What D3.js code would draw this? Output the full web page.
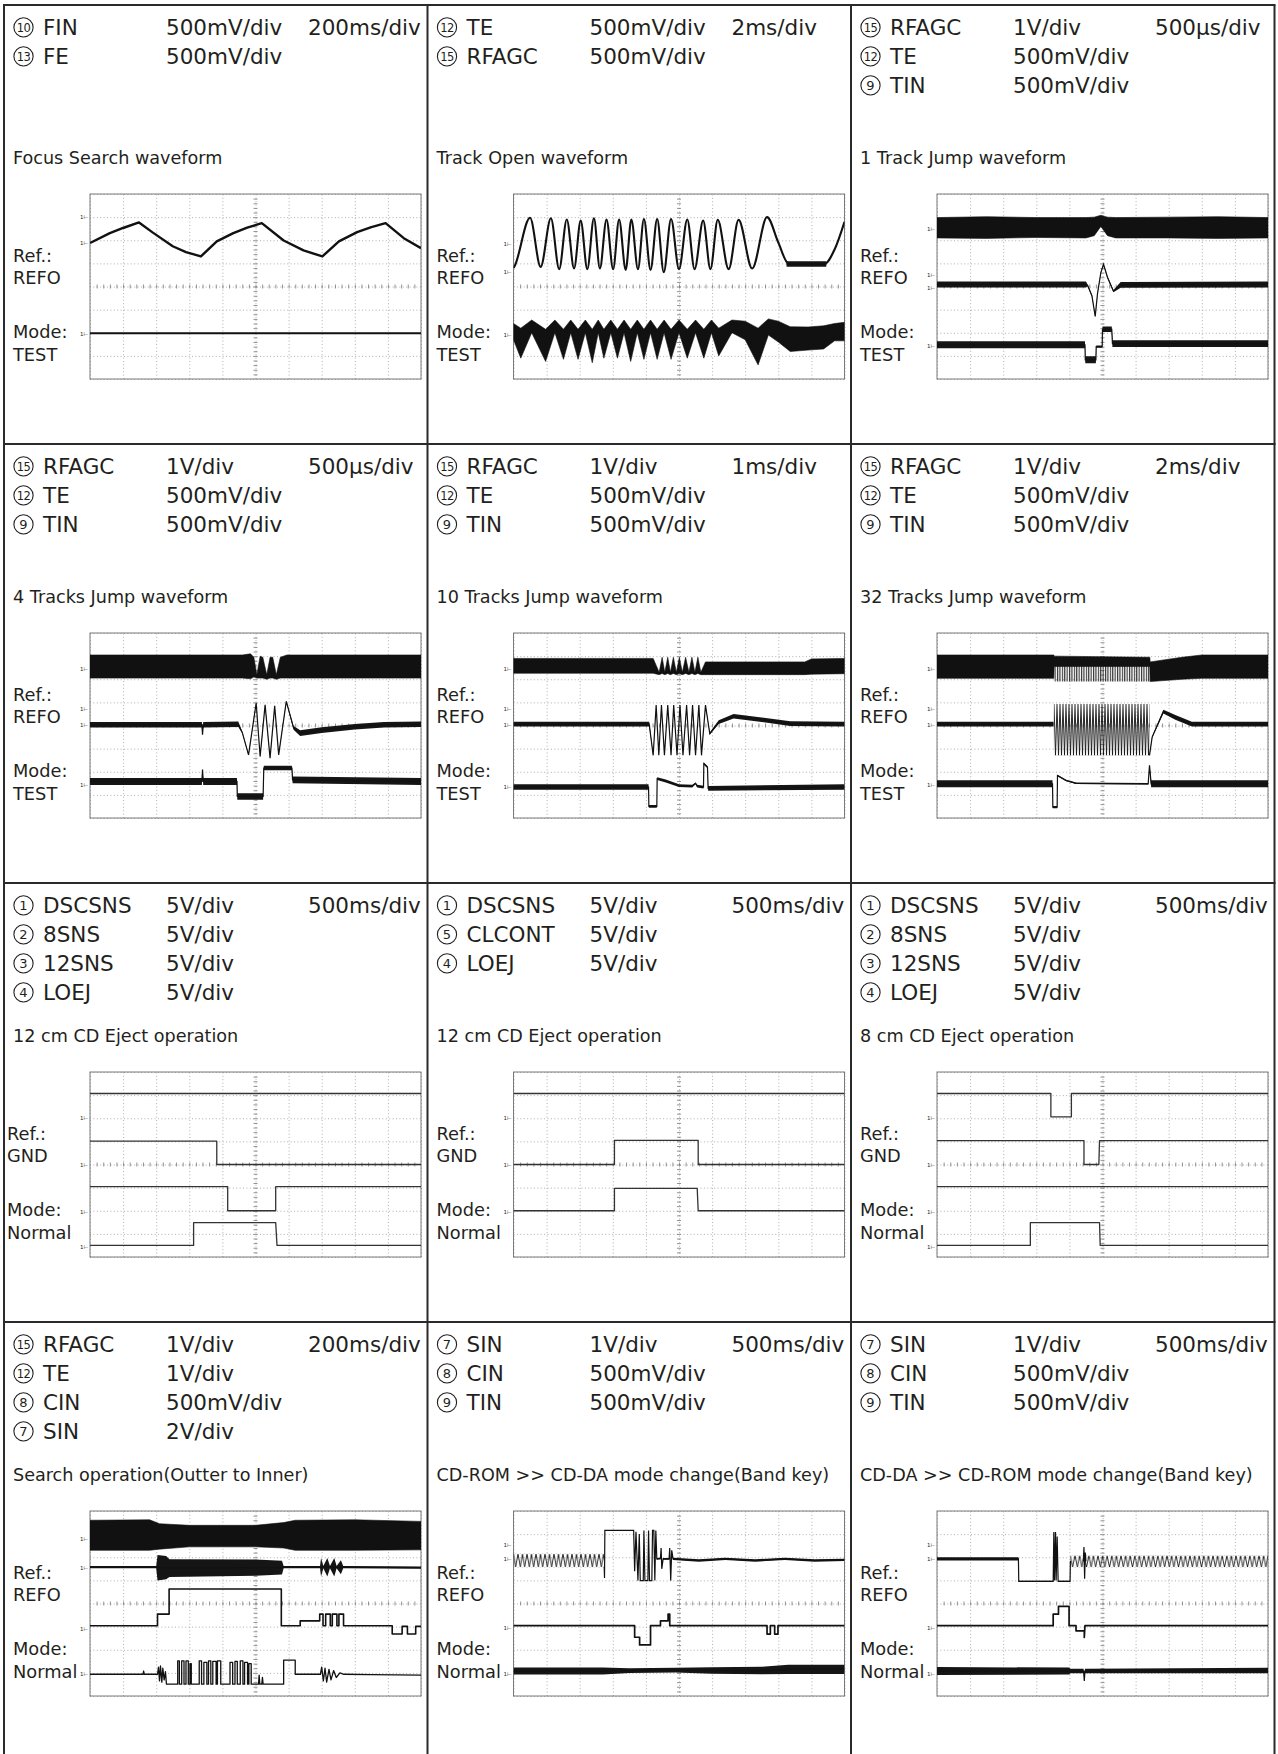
<!DOCTYPE html>
<html>
<head>
<meta charset="utf-8">
<script src="https://cdn.jsdelivr.net/npm/d3@7"></script>
<style>
  body { margin: 0; background: #fff; }
  svg text { font-family: "DejaVu Sans", sans-serif; fill: #231f20; }
  .grid .domain, .minor .domain { display: none; }
  .grid line { stroke: #9a9a9a; stroke-width: 0.8; stroke-dasharray: 1 2.4; }
  .minor line { stroke: #777; stroke-width: 0.8; }
</style>
</head>
<body>
<svg id="sheet"></svg>
<script>
// ---- text of each panel: [pin number, signal, volts/div] ----
const chFocus = [["10", "FIN", "500mV/div"], ["13", "FE", "500mV/div"]]
const chTrackOpen = [["12", "TE", "500mV/div"], ["15", "RFAGC", "500mV/div"]]
const chJump = [["15", "RFAGC", "1V/div"], ["12", "TE", "500mV/div"], ["9", "TIN", "500mV/div"]]
const chEject = [["1", "DSCSNS", "5V/div"], ["2", "8SNS", "5V/div"], ["3", "12SNS", "5V/div"], ["4", "LOEJ", "5V/div"]]
const chEjectCl = [["1", "DSCSNS", "5V/div"], ["5", "CLCONT", "5V/div"], ["4", "LOEJ", "5V/div"]]
const chSearch = [["15", "RFAGC", "1V/div"], ["12", "TE", "1V/div"], ["8", "CIN", "500mV/div"], ["7", "SIN", "2V/div"]]
const chMode = [["7", "SIN", "1V/div"], ["8", "CIN", "500mV/div"], ["9", "TIN", "500mV/div"]]

const timebases = ["200ms/div", "2ms/div", "500μs/div", "500μs/div", "1ms/div", "2ms/div",
                   "500ms/div", "500ms/div", "500ms/div", "200ms/div", "500ms/div", "500ms/div"]
const titles = ["Focus Search waveform", "Track Open waveform", "1 Track Jump waveform",
                "4 Tracks Jump waveform", "10 Tracks Jump waveform", "32 Tracks Jump waveform",
                "12 cm CD Eject operation", "12 cm CD Eject operation", "8 cm CD Eject operation",
                "Search operation(Outter to Inner)", "CD-ROM >> CD-DA mode change(Band key)",
                "CD-DA >> CD-ROM mode change(Band key)"]
const refSources = ["REFO", "REFO", "REFO", "REFO", "REFO", "REFO", "GND", "GND", "GND", "REFO", "REFO", "REFO"]
const modes = ["TEST", "TEST", "TEST", "TEST", "TEST", "TEST", "Normal", "Normal", "Normal", "Normal", "Normal", "Normal"]

// ---- traces, x in divisions (0..10), y in divisions (-4..4) ----
// line: [x, y]   trace: [x, y, noise]   band: [x, lo, hi]
const focusFIN = [[0,1.88],[0.6,2.31],[1.0,2.53],[1.48,2.77],[1.9,2.33],[2.5,1.74],[2.9,1.49],[3.35,1.30],
  [3.83,1.95],[4.33,2.31],[4.75,2.55],[5.19,2.74],[5.85,1.99],[6.45,1.56],[7.02,1.30],[7.52,1.95],
  [8.07,2.35],[8.5,2.57],[8.93,2.74],[9.48,2.09],[10,1.66]]
const focusFE = [[0,-2.02],[10,-2.02]]

const trackOpenTE = [[0,0.8],[0.04,0.9],[0.5,2.97],[0.82,0.85],[1.13,2.95],[1.38,0.75],[1.61,2.9],[1.83,0.78],
  [2.03,2.85],[2.23,0.75],[2.43,2.95],[2.61,0.78],[2.81,2.9],[3.01,0.75],[3.19,2.9],[3.39,0.72],[3.56,2.9],
  [3.76,0.75],[3.94,2.92],[4.14,0.72],[4.34,2.92],[4.54,0.62],[4.76,2.92],[5.0,0.75],[5.25,2.9],[5.47,0.75],
  [5.73,2.85],[5.95,0.75],[6.17,2.88],[6.5,0.75],[6.8,2.88],[7.21,0.78],[7.66,3.0],[8.0,1.9],[8.3,1.0],
  [8.6,0.95],[9.0,0.97],[9.4,0.98],[9.7,1.6],[10,2.8]]
const trackOpenTENoise = [[8.25,0.97,0.12],[9.45,0.97,0.12]]
const trackOpenRFAGC = [[0,-1.6,-2.3],[0.22,-1.8,-3.1],[0.55,-1.45,-2.0],[0.97,-1.85,-3.24],[1.25,-1.45,-2.0],
  [1.51,-1.85,-3.15],[1.73,-1.45,-2.0],[1.95,-1.85,-3.15],[2.17,-1.45,-2.0],[2.38,-1.85,-3.3],[2.56,-1.45,-2.0],
  [2.73,-1.85,-3.1],[2.94,-1.45,-2.0],[3.14,-1.85,-3.1],[3.34,-1.45,-2.0],[3.54,-1.85,-3.24],[3.74,-1.45,-2.0],
  [3.94,-1.85,-3.15],[4.14,-1.45,-2.0],[4.34,-1.85,-3.15],[4.55,-1.45,-2.0],[4.76,-1.85,-3.15],[5.0,-1.45,-2.0],
  [5.25,-1.85,-3.1],[5.5,-1.45,-2.0],[5.75,-1.85,-3.1],[5.98,-1.45,-2.0],[6.2,-1.8,-3.0],[6.6,-1.45,-2.0],
  [7.0,-1.5,-2.3],[7.39,-1.8,-3.39],[7.7,-1.4,-2.1],[8.0,-1.5,-2.4],[8.36,-1.74,-2.81],[8.9,-1.75,-2.75],
  [9.37,-1.7,-2.7],[9.7,-1.6,-2.35],[10,-1.55,-2.35]]

const jump1RFAGC = [[0,2.1,2.98],[1.5,2.08,3.02],[3,2.12,2.98],[4.5,2.1,2.98],[4.75,2.2,3.0],[4.95,2.6,3.08],
  [5.15,2.2,3.0],[5.4,2.1,2.98],[7,2.1,3.0],[8.5,2.08,3.02],[10,2.1,2.98]]
const jump1TE = [[0,0.09,0.13],[4.5,0.09,0.13],[4.55,0.05,0.04],[4.68,-0.4,0.04],[4.78,-1.29,0.03],[4.85,-0.3,0.03],
  [4.95,0.6,0.03],[5.03,0.96,0.03],[5.15,0.4,0.04],[5.33,-0.2,0.05],[5.55,0.07,0.12],[10,0.09,0.13]]
const jump1TIN = [[0,-2.52,0.15],[4.47,-2.52,0.15],[4.48,-3.17,0.15],[4.8,-3.17,0.15],[4.81,-2.6,0.05],
  [4.99,-2.6,0.05],[5.0,-1.85,0.12],[5.28,-1.85,0.12],[5.3,-2.47,0.15],[10,-2.47,0.15]]

const jump4RFAGC = [[0,2.05,3.05],[4.6,2.05,3.05],[4.85,2.02,3.1],[4.95,2.1,2.95],[5.04,2.05,2.2],[5.14,2.05,3.0],
  [5.22,2.05,2.95],[5.34,2.0,2.2],[5.44,2.05,2.95],[5.52,2.05,2.95],[5.63,2.0,2.2],[5.75,2.05,2.95],
  [5.95,2.05,3.05],[10,2.05,3.05]]
const jump4TE = [[0,0.03,0.12],[3.38,0.03,0.12],[3.4,-0.4,0.03],[3.42,0.03,0.12],[4.48,0.05,0.12],[4.6,-0.3,0.03],
  [4.79,-1.27,0.03],[5.02,0.97,0.03],[5.14,-1.34,0.03],[5.29,0.89,0.03],[5.44,-1.41,0.03],[5.58,0.85,0.03],
  [5.7,-1.27,0.03],[5.93,1.04,0.03],[6.15,-0.1,0.08],[6.35,-0.33,0.12],[7,-0.2,0.12],[8,-0.05,0.12],
  [8.88,0.03,0.12],[10,0.05,0.12]]
const jump4TIN = [[0,-2.42,0.15],[3.38,-2.42,0.15],[3.4,-1.9,0.03],[3.42,-2.42,0.15],[4.44,-2.42,0.15],
  [4.45,-3.07,0.14],[5.23,-3.07,0.14],[5.25,-1.84,0.1],[6.1,-1.84,0.1],[6.12,-2.35,0.15],[10,-2.42,0.15]]

const jump10RFAGC = [[0,2.26,2.9],[4.22,2.26,2.9],[4.4,2.2,2.3],[4.49,2.25,2.95],[4.57,2.2,2.3],[4.66,2.25,2.95],
  [4.74,2.2,2.3],[4.83,2.25,2.95],[4.92,2.2,2.3],[5.01,2.25,2.95],[5.1,2.2,2.3],[5.2,2.25,2.95],[5.3,2.2,2.3],
  [5.39,2.25,2.95],[5.48,2.2,2.3],[5.57,2.25,2.95],[5.66,2.2,2.3],[5.8,2.2,2.75],[8.8,2.2,2.75],
  [9.0,2.22,2.88],[10,2.24,2.9]]
const jump10TE = [[0,0.06,0.1],[4.1,0.06,0.1],[4.22,-1.29,0.02],[4.31,0.88,0.02],[4.39,-1.29,0.02],[4.47,0.88,0.02],
  [4.56,-1.29,0.02],[4.66,0.88,0.02],[4.76,-1.29,0.02],[4.84,0.88,0.02],[4.94,-1.29,0.02],[5.03,0.88,0.02],
  [5.12,-1.29,0.02],[5.23,0.88,0.02],[5.32,-1.29,0.02],[5.41,0.88,0.02],[5.5,-1.29,0.02],[5.6,0.88,0.02],
  [5.68,-1.29,0.02],[5.8,0.88,0.02],[5.93,-0.35,0.05],[6.2,0.15,0.08],[6.65,0.4,0.1],[7.5,0.25,0.1],
  [8.36,0.08,0.1],[10,0.06,0.1]]
const jump10TIN = [[0,-2.66,0.12],[4.08,-2.66,0.12],[4.09,-3.5,0.06],[4.33,-3.5,0.06],[4.34,-2.3,0.06],
  [4.6,-2.4,0.06],[5.0,-2.6,0.06],[5.4,-2.62,0.06],[5.5,-2.5,0.04],[5.55,-2.62,0.06],[5.74,-2.66,0.06],
  [5.75,-1.65,0.05],[5.86,-1.8,0.05],[5.88,-2.72,0.1],[10,-2.66,0.12]]

const jump32RFAGC = [[0,2.04,3.05],[3.53,2.04,3.05],[3.54,2.55,3.0],[6.43,2.55,2.95],[6.44,1.9,2.75],
  [7.4,2.0,2.95],[8,2.04,3.05],[10,2.04,3.05]]
const jump32RFAGCSparse = [[3.54,1.9,2.6],[6.43,1.9,2.6]]
const jump32TE = [[0,0.06,0.1],[3.52,0.06,0.1],null,[6.42,-1.29,0.02],[6.5,-0.5,0.04],[6.84,0.6,0.08],
  [7.2,0.35,0.1],[7.7,0.06,0.1],[10,0.06,0.1]]
const jump32TEBurst = [[3.53,-1.3,0.93],[6.42,-1.3,0.93]]
const jump32TIN = [[0,-2.52,0.15],[3.49,-2.52,0.15],[3.5,-3.53,0.05],[3.63,-3.53,0.05],[3.64,-2.16,0.03],
  [3.9,-2.38,0.03],[4.2,-2.5,0.03],[6.38,-2.52,0.03],[6.42,-1.72,0.02],[6.47,-2.52,0.15],[10,-2.52,0.15]]

const eject12DSCSNS = [[0,3.07],[10,3.07]]
const eject12SNS8 = [[0,1.01],[3.83,1.01],[3.83,0],[10,0]]
const eject12SNS12 = [[0,-0.96],[4.16,-0.96],[4.16,-2.0],[5.61,-2.0],[5.61,-0.96],[10,-0.96]]
const eject12LOEJ = [[0,-3.5],[3.13,-3.5],[3.13,-2.51],[5.61,-2.51],[5.65,-3.5],[10,-3.5]]

const ejectClDSCSNS = [[0,3.07],[10,3.07]]
const ejectClCLCONT = [[0,0],[3.05,0],[3.05,1.04],[5.58,1.04],[5.58,0],[10,0]]
const ejectClLOEJ = [[0,-2.0],[3.05,-2.0],[3.05,-1.03],[5.55,-1.03],[5.58,-2.0],[10,-2.0]]

const eject8DSCSNS = [[0,3.07],[3.44,3.07],[3.44,2.06],[4.06,2.06],[4.06,3.07],[10,3.07]]
const eject8SNS8 = [[0,1.03],[4.44,1.03],[4.44,0],[4.89,0],[4.91,1.03],[10,1.03]]
const eject8SNS12 = [[0,-0.96],[10,-0.96]]
const eject8LOEJ = [[0,-3.5],[2.82,-3.5],[2.82,-2.51],[4.91,-2.51],[4.93,-3.5],[10,-3.5]]

const searchRFAGC = [[0,2.3,3.6],[1.8,2.3,3.62],[2.1,2.35,3.45],[3,2.45,3.38],[5,2.45,3.38],[5.85,2.4,3.5],
  [6.2,2.3,3.6],[8,2.3,3.62],[10,2.32,3.55]]
const searchTE = [[0,1.57,0.05],[2.0,1.57,0.05],[2.04,1.55,0.55],[2.3,1.55,0.5],[2.4,1.53,0.38],[5.0,1.55,0.35],
  [5.8,1.55,0.3],[5.85,1.57,0.05],[6.95,1.57,0.05],[6.98,1.57,0.4],[7.05,1.57,0.05],[7.17,1.57,0.4],
  [7.25,1.57,0.05],[7.38,1.57,0.4],[7.45,1.57,0.05],[7.58,1.57,0.3],[7.65,1.57,0.05],[10,1.55,0.05]]
const searchCIN = [[0,-0.96],[2.04,-0.96],[2.04,-0.46],[2.39,-0.46],[2.39,0.63],[5.78,0.63],[5.78,-0.96],
  [6.35,-0.96],[6.35,-0.75],[6.94,-0.75],[6.94,-0.46],[7.04,-0.46],[7.04,-0.96],[7.12,-0.96],[7.12,-0.46],
  [7.26,-0.46],[7.26,-0.96],[7.32,-0.96],[7.32,-0.46],[7.46,-0.46],[7.46,-0.96],[7.52,-0.96],[7.52,-0.46],
  [7.66,-0.46],[7.66,-0.96],[9.13,-0.96],[9.13,-1.32],[9.43,-1.32],[9.43,-0.99],[9.59,-0.99],[9.59,-1.32],
  [9.84,-1.32],[9.84,-0.99],[10,-0.99]]
const searchSIN = [[0,-3.06],[1.6,-3.06],[1.62,-2.92],[1.64,-3.06],[2.04,-3.06],
  [2.07,-2.75],[2.1,-3.35],[2.13,-2.7],[2.17,-3.4],[2.2,-2.8],[2.24,-3.3],[2.28,-2.95],[2.31,-3.49],
  [2.65,-3.49],[2.65,-2.48],[2.7,-2.48],[2.7,-3.49],[2.77,-3.49],[2.77,-2.48],[2.84,-2.48],[2.84,-3.49],
  [2.9,-3.49],[2.9,-2.48],[2.97,-2.48],[2.97,-3.49],[3.02,-3.49],[3.02,-2.6],[3.06,-2.6],[3.06,-3.49],
  [3.3,-3.49],[3.3,-2.48],[3.37,-2.48],[3.37,-3.49],[3.44,-3.49],[3.44,-2.55],[3.53,-2.55],[3.53,-3.49],
  [3.58,-3.49],[3.58,-2.48],[3.65,-2.48],[3.65,-3.49],[3.71,-3.49],[3.71,-2.5],[3.81,-2.5],[3.81,-3.49],
  [3.85,-3.49],[3.85,-2.48],[3.95,-2.48],[3.95,-3.49],
  [4.23,-3.49],[4.23,-2.55],[4.31,-2.55],[4.31,-3.49],[4.38,-3.49],[4.38,-2.5],[4.45,-2.5],[4.45,-3.49],
  [4.54,-3.49],[4.54,-2.48],[4.62,-2.48],[4.62,-3.49],[4.67,-3.49],[4.67,-2.55],[4.76,-2.55],[4.76,-3.49],
  [4.8,-3.49],[4.8,-2.6],[4.87,-2.6],[4.87,-3.49],
  [5.09,-3.49],[5.11,-3.1],[5.13,-3.49],[5.19,-3.49],[5.21,-3.2],[5.23,-3.49],
  [5.85,-3.49],[5.85,-2.45],[6.2,-2.45],[6.2,-3.06],
  [6.96,-3.06],[7.0,-2.75],[7.05,-3.35],[7.1,-2.8],[7.15,-3.4],[7.22,-2.85],[7.28,-3.3],[7.36,-2.9],
  [7.44,-3.2],[7.55,-3.0],[7.67,-3.06],[8.5,-3.08],[10,-3.1]]

const romToDaSINRipple = [[0,1.57,2.15],[2.74,1.57,2.15]]
const romToDaSIN = [[2.74,1.6,0.02],[2.75,1.1,0.02],[2.76,3.16,0.02],[3.63,3.16,0.02],[3.66,1.4,0.02],
  [3.7,3.1,0.02],[3.76,0.99,0.02],[3.8,3.0,0.02],[3.83,0.99,0.02],[3.92,0.99,0.02],[3.94,3.16,0.02],
  [3.97,0.99,0.02],[4.06,0.99,0.02],[4.08,3.16,0.02],[4.11,0.99,0.02],[4.18,0.99,0.02],[4.2,3.16,0.02],
  [4.24,3.16,0.02],[4.27,1.0,0.02],[4.3,3.16,0.02],[4.33,1.93,0.04],[4.44,1.95,0.04],[4.46,2.4,0.02],
  [4.48,1.5,0.02],[4.52,1.93,0.04],[4.7,1.93,0.04],[4.72,2.4,0.02],[4.75,0.99,0.02],[4.78,2.3,0.02],
  [4.82,1.93,0.05],[5.6,1.86,0.05],[6.4,1.93,0.05],[7.3,1.86,0.05],[8.2,1.93,0.05],[9.1,1.86,0.05],
  [10,1.89,0.05]]
const romToDaCIN = [[0,-0.96],[3.66,-0.96],[3.66,-1.46],[3.81,-1.46],[3.81,-1.79],[4.14,-1.79],[4.14,-0.96],
  [4.44,-0.96],[4.44,-0.75],[4.67,-0.75],[4.67,-0.46],[4.72,-0.46],[4.72,-0.96],[7.66,-0.96],[7.66,-1.32],
  [7.76,-1.32],[7.76,-0.96],[7.89,-0.96],[7.89,-1.32],[7.99,-1.32],[7.99,-0.96],[10,-0.96]]
const romToDaTIN = [[0,-2.92,0.15],[2.7,-2.92,0.15],[3.5,-2.9,0.1],[4.9,-2.88,0.1],[6,-2.9,0.14],
  [7.5,-2.9,0.16],[8.3,-2.85,0.2],[10,-2.85,0.2]]

const daToRomSIN = [[0,1.93,0.07],[2.46,1.93,0.07],[2.47,0.96,0.02],[3.51,0.96,0.02],[3.53,3.09,0.02],
  [3.55,1.0,0.02],[3.58,3.09,0.02],[3.6,1.0,0.02],[3.63,2.9,0.02],[3.66,0.96,0.02],[4.02,0.96,0.02],
  [4.03,1.85,0.02],null,[4.42,1.82,0.02],[4.44,2.44,0.02],[4.46,1.07,0.02],[4.48,2.2,0.02],[4.5,1.82,0.02]]
const daToRomSINRipple = [[4.03,1.57,2.08],[10,1.57,2.08]]
const daToRomCIN = [[0,-0.96],[3.51,-0.96],[3.51,-0.46],[3.67,-0.46],[3.67,-0.12],[3.99,-0.12],[3.99,-0.96],
  [4.2,-0.96],[4.2,-1.18],[4.45,-1.18],[4.45,-1.47],[4.47,-0.96],[10,-0.96]]
const daToRomTIN = [[0,-2.92,0.17],[4.0,-2.92,0.15],[4.02,-2.92,0.1],[4.43,-2.92,0.1],[4.45,-3.35,0.01],
  [4.47,-2.92,0.1],[10,-2.9,0.12]]

// ground markers beside each graticule
const markerLevels = [[3.0,1.88,-2.06],[1.83,0.61,-2.1],[2.48,0.48,-0.06,-2.59],[2.43,0.7,0.03,-2.56],
  [2.43,0.7,0.03,-2.66],[2.43,0.7,0.03,-2.56],[2.02,0,-2.06,-3.58],[2.02,0,-2.06],[2.02,0,-2.06,-3.58],
  [2.79,1.54,-1.1,-3.06],[2.55,1.93,-1.06,-3.06],[2.55,1.93,-1.06,-3.06]]

const panels = [
  { ch: chFocus, traces: [
      { kind: "line", data: focusFIN, width: 2.4 },
      { kind: "line", data: focusFE, width: 2 }] },
  { ch: chTrackOpen, traces: [
      { kind: "line", data: trackOpenTE, width: 2.1, curve: d3.curveMonotoneX },
      { kind: "trace", data: trackOpenTENoise },
      { kind: "band", data: trackOpenRFAGC }] },
  { ch: chJump, traces: [
      { kind: "band", data: jump1RFAGC },
      { kind: "trace", data: jump1TE },
      { kind: "trace", data: jump1TIN }] },
  { ch: chJump, traces: [
      { kind: "band", data: jump4RFAGC },
      { kind: "trace", data: jump4TE },
      { kind: "trace", data: jump4TIN }] },
  { ch: chJump, traces: [
      { kind: "band", data: jump10RFAGC },
      { kind: "trace", data: jump10TE },
      { kind: "trace", data: jump10TIN }] },
  { ch: chJump, traces: [
      { kind: "band", data: jump32RFAGC },
      { kind: "stripes", data: jump32RFAGCSparse, period: 2.4 },
      { kind: "trace", data: jump32TE },
      { kind: "zigzag", data: jump32TEBurst, period: 3 },
      { kind: "trace", data: jump32TIN }] },
  { ch: chEject, traces: [
      { kind: "line", data: eject12DSCSNS, width: 1.3, color: "#333" },
      { kind: "line", data: eject12SNS8, width: 1.3, color: "#333" },
      { kind: "line", data: eject12SNS12, width: 1.3, color: "#333" },
      { kind: "line", data: eject12LOEJ, width: 1.3, color: "#333" }] },
  { ch: chEjectCl, traces: [
      { kind: "line", data: ejectClDSCSNS, width: 1.3, color: "#333" },
      { kind: "line", data: ejectClCLCONT, width: 1.3, color: "#333" },
      { kind: "line", data: ejectClLOEJ, width: 1.3, color: "#333" }] },
  { ch: chEject, traces: [
      { kind: "line", data: eject8DSCSNS, width: 1.3, color: "#333" },
      { kind: "line", data: eject8SNS8, width: 1.3, color: "#333" },
      { kind: "line", data: eject8SNS12, width: 1.3, color: "#333" },
      { kind: "line", data: eject8LOEJ, width: 1.3, color: "#333" }] },
  { ch: chSearch, traces: [
      { kind: "band", data: searchRFAGC },
      { kind: "trace", data: searchTE },
      { kind: "line", data: searchCIN, width: 1.6 },
      { kind: "line", data: searchSIN, width: 1.3 }] },
  { ch: chMode, traces: [
      { kind: "zigzag", data: romToDaSINRipple, period: 4.5 },
      { kind: "trace", data: romToDaSIN },
      { kind: "line", data: romToDaCIN, width: 1.7 },
      { kind: "trace", data: romToDaTIN }] },
  { ch: chMode, traces: [
      { kind: "trace", data: daToRomSIN },
      { kind: "zigzag", data: daToRomSINRipple, period: 4.6 },
      { kind: "line", data: daToRomCIN, width: 1.7 },
      { kind: "trace", data: daToRomTIN }] }
]

// ---- layout ----
const W = 1278, H = 1754
const colX = [4, 427.5, 851], rowY = [5, 444, 883, 1322], rightEdge = 1274.5
const plot = { left: 86, top: 189, width: 331, height: 185 }

const svg = d3.select("#sheet").attr("width", W).attr("height", H)
const defs = svg.append("defs")

// panel frame lines
svg.append("g").selectAll("line.v")
   .data(colX.concat([rightEdge]))
   .join("line")
   .attr("x1", d => d).attr("x2", d => d)
   .attr("y1", rowY[0]).attr("y2", H)
   .attr("stroke", "#2a2a2a").attr("stroke-width", 2)
svg.append("g").selectAll("line.h")
   .data(rowY)
   .join("line")
   .attr("x1", colX[0] - 1).attr("x2", rightEdge + 1)
   .attr("y1", d => d).attr("y2", d => d)
   .attr("stroke", "#2a2a2a").attr("stroke-width", 2)

const x = d3.scaleLinear().domain([0, 10]).range([0, plot.width])
const y = d3.scaleLinear().domain([-4, 4]).range([plot.height, 0])

panels.forEach((p, i) => {
    const col = i % 3, row = Math.floor(i / 3)
    const g = svg.append("g").attr("transform", `translate(${colX[col]},${rowY[row]})`)

    p.ch.forEach((c, k) => {
        const base = 30 + 29 * k
        // circled pin number
        g.append("circle").attr("cx", 19.5).attr("cy", base - 7.6).attr("r", 9.6)
         .attr("fill", "none").attr("stroke", "#231f20").attr("stroke-width", 1.1)
        g.append("text").attr("x", 19.5).attr("y", base - 3.2)
         .attr("text-anchor", "middle").attr("font-size", c[0].length > 1 ? 11.5 : 13)
         .attr("letter-spacing", c[0].length > 1 ? -0.6 : 0)
         .text(c[0])
        g.append("text").attr("x", 39).attr("y", base).attr("font-size", 21.5).text(c[1])
        g.append("text").attr("x", 162).attr("y", base).attr("font-size", 21.5).text(c[2])
    })
    g.append("text").attr("x", 304).attr("y", 30).attr("font-size", 21.5).text(timebases[i])
    g.append("text").attr("x", 9).attr("y", 159).attr("font-size", 17.6).text(titles[i])

    const lx = (row === 2 && col === 0) ? 3 : 9
    const labels = [["Ref.:", 257], [refSources[i], 279], ["Mode:", 333], [modes[i], 356]]
    labels.forEach(l => g.append("text").attr("x", lx).attr("y", l[1]).attr("font-size", 17.8).text(l[0]))

    const pg = g.append("g").attr("transform", `translate(${plot.left},${plot.top})`)

    // graticule
    pg.append("g").attr("class", "grid")
      .attr("transform", `translate(0,${plot.height})`)
      .call(d3.axisBottom(x).ticks(10).tickSize(-plot.height).tickFormat(""))
    pg.append("g").attr("class", "grid")
      .call(d3.axisLeft(y).ticks(8).tickSize(-plot.width).tickFormat(""))
    pg.append("g").attr("class", "minor")
      .attr("transform", `translate(0,${y(0) - 2})`)
      .call(d3.axisBottom(x).tickValues(d3.range(0.2, 10, 0.2)).tickSize(4).tickFormat(""))
    pg.append("g").attr("class", "minor")
      .attr("transform", `translate(${x(5) + 2},0)`)
      .call(d3.axisLeft(y).tickValues(d3.range(-3.8, 4, 0.2)).tickSize(4).tickFormat(""))
    pg.append("rect")
      .attr("width", plot.width).attr("height", plot.height)
      .attr("fill", "none").attr("stroke", "#7a7a7a").attr("stroke-width", 1)

    // ground markers
    pg.append("g").selectAll("text")
      .data(markerLevels[i])
      .join("text")
      .attr("x", -10).attr("y", d => y(d) + 2)
      .attr("font-size", 5.5).attr("fill", "#555")
      .text("1⊢")

    const clipId = "clip" + i
    defs.append("clipPath").attr("id", clipId)
        .append("rect").attr("width", plot.width).attr("height", plot.height)
    const tg = pg.append("g").attr("clip-path", `url(#${clipId})`)

    p.traces.forEach((t, k) => {
        const curve = t.curve || d3.curveLinear
        if (t.kind === "line") {
            tg.append("path").datum(t.data)
              .attr("d", d3.line().defined(d => d).x(d => x(d[0])).y(d => y(d[1])).curve(curve))
              .attr("fill", "none").attr("stroke", t.color || "#111")
              .attr("stroke-width", t.width || 1.5).attr("stroke-linejoin", "round")
        } else if (t.kind === "trace") {
            tg.append("path").datum(t.data)
              .attr("d", d3.area().defined(d => d).x(d => x(d[0]))
                           .y0(d => y(d[1] - d[2])).y1(d => y(d[1] + d[2])).curve(curve))
              .attr("fill", "#151515")
            tg.append("path").datum(t.data)
              .attr("d", d3.line().defined(d => d).x(d => x(d[0])).y(d => y(d[1])).curve(curve))
              .attr("fill", "none").attr("stroke", "#111").attr("stroke-width", 1.2)
        } else if (t.kind === "band") {
            tg.append("path").datum(t.data)
              .attr("d", d3.area().x(d => x(d[0])).y0(d => y(d[1])).y1(d => y(d[2])).curve(curve))
              .attr("fill", "#111").attr("stroke", "#111").attr("stroke-width", 0.6)
        } else {
            // dense repeated strokes: fill the band with a texture
            const lo = d3.min(t.data, d => d[1]), hi = d3.max(t.data, d => d[2])
            const top = y(hi), h = y(lo) - y(hi)
            const pid = `tex${i}_${k}`
            const pat = defs.append("pattern").attr("id", pid)
                            .attr("patternUnits", "userSpaceOnUse")
                            .attr("x", 0).attr("y", top)
                            .attr("width", t.period).attr("height", h)
            if (t.kind === "zigzag") {
                pat.append("path")
                   .attr("d", `M0,0 L${t.period / 2},${h} L${t.period},0`)
                   .attr("fill", "none").attr("stroke", "#111").attr("stroke-width", 0.9)
            } else {
                pat.append("line").attr("x1", 0.6).attr("x2", 0.6).attr("y1", 0).attr("y2", h)
                   .attr("stroke", "#111").attr("stroke-width", 1)
            }
            tg.append("path").datum(t.data)
              .attr("d", d3.area().x(d => x(d[0])).y0(d => y(d[1])).y1(d => y(d[2])))
              .attr("fill", `url(#${pid})`)
        }
    })
})
</script>
</body>
</html>
